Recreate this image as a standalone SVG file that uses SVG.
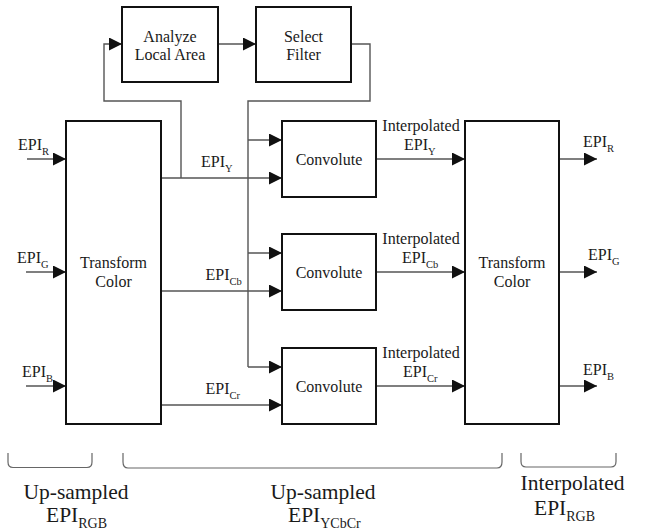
<svg xmlns="http://www.w3.org/2000/svg" width="650" height="532" viewBox="0 0 650 532">
<defs>
<marker id="ah" viewBox="0 0 13 13" refX="13" refY="6.5" markerWidth="13" markerHeight="13" markerUnits="userSpaceOnUse" orient="auto">
<path d="M0,0 L13,6.5 L0,13 Z" fill="#111"/>
</marker>
<style>
.box{fill:#fff;stroke:#111;stroke-width:2}
.ln{fill:none;stroke:#555;stroke-width:1.4}
.ar{fill:none;stroke:#555;stroke-width:1.4;marker-end:url(#ah)}
.br{fill:none;stroke:#666;stroke-width:1.2}
text{font-family:"Liberation Serif","Times New Roman",serif;fill:#1a1a1a}
.t{font-size:16px}
.c{text-anchor:middle}
.s{font-size:10.5px}
.b{font-size:21.5px}
.bs{font-size:14px}
</style>
</defs>
<g id="connectors">
<path class="ar" d="M218,44 H256"/>
<path class="ar" d="M181,178 V101 H104 V44 H122"/>
<path class="ln" d="M351,44 H370 V101 H248 V367"/>
<path class="ar" d="M248,140 H282"/>
<path class="ar" d="M248,253 H282"/>
<path class="ar" d="M248,367 H282"/>
<path class="ar" d="M161,178 H282"/>
<path class="ar" d="M161,291 H282"/>
<path class="ar" d="M161,405 H282"/>
<path class="ar" d="M27,159 H66"/>
<path class="ar" d="M26,272 H66"/>
<path class="ar" d="M26,386 H66"/>
<path class="ar" d="M376,159 H465"/>
<path class="ar" d="M376,272 H465"/>
<path class="ar" d="M376,386 H465"/>
<path class="ar" d="M559,159 H597"/>
<path class="ar" d="M559,272 H597"/>
<path class="ar" d="M559,386 H597"/>
</g>
<g id="analyze">
<rect class="box" x="122" y="7" width="96" height="75"/>
<text class="t c" x="170" y="42">Analyze</text>
<text class="t c" x="170" y="60">Local Area</text>
</g>
<g id="select">
<rect class="box" x="256" y="7" width="95" height="75"/>
<text class="t c" x="303.5" y="42">Select</text>
<text class="t c" x="303.5" y="60">Filter</text>
</g>
<g id="transform-in">
<rect class="box" x="66" y="121" width="95" height="303"/>
<text class="t c" x="113.5" y="268">Transform</text>
<text class="t c" x="113.5" y="287">Color</text>
</g>
<g id="conv-y">
<rect class="box" x="282" y="121" width="94" height="76"/>
<text class="t c" x="329" y="165">Convolute</text>
</g>
<g id="conv-cb">
<rect class="box" x="282" y="234" width="94" height="76"/>
<text class="t c" x="329" y="278">Convolute</text>
</g>
<g id="conv-cr">
<rect class="box" x="282" y="348" width="94" height="76"/>
<text class="t c" x="329" y="392">Convolute</text>
</g>
<g id="transform-out">
<rect class="box" x="465" y="121" width="94" height="303"/>
<text class="t c" x="512" y="268">Transform</text>
<text class="t c" x="512" y="287">Color</text>
</g>
<g id="labels">
<text class="t" x="18" y="150">EPI<tspan class="s" dy="5">R</tspan></text>
<text class="t" x="17" y="263">EPI<tspan class="s" dy="5">G</tspan></text>
<text class="t" x="22" y="377">EPI<tspan class="s" dy="5">B</tspan></text>
<text class="t" x="201" y="167">EPI<tspan class="s" dy="5">Y</tspan></text>
<text class="t" x="205.5" y="280">EPI<tspan class="s" dy="5">Cb</tspan></text>
<text class="t" x="205.5" y="394">EPI<tspan class="s" dy="5">Cr</tspan></text>
<text class="t c" x="421" y="131">Interpolated</text>
<text class="t" x="404" y="150">EPI<tspan class="s" dy="5">Y</tspan></text>
<text class="t c" x="421" y="244">Interpolated</text>
<text class="t" x="402" y="263">EPI<tspan class="s" dy="5">Cb</tspan></text>
<text class="t c" x="421" y="358">Interpolated</text>
<text class="t" x="403" y="377">EPI<tspan class="s" dy="5">Cr</tspan></text>
<text class="t" x="583" y="147">EPI<tspan class="s" dy="5">R</tspan></text>
<text class="t" x="588" y="260">EPI<tspan class="s" dy="5">G</tspan></text>
<text class="t" x="583" y="375">EPI<tspan class="s" dy="5">B</tspan></text>
</g>
<g id="brackets">
<path class="br" d="M8,453 V462 Q8,467.5 13,467.5 H87 Q92,467.5 92,462 V453"/>
<path class="br" d="M123,453 V462 Q123,468 128,468 H497 Q502,468 502,462 V453"/>
<path class="br" d="M521,453 V461.5 Q521,467 526,467 H611 Q616,467 616,461.5 V453"/>
</g>
<g id="captions">
<text class="b c" x="76" y="499">Up-sampled</text>
<text class="b" x="46" y="522">EPI<tspan class="bs" dy="6">RGB</tspan></text>
<text class="b c" x="323" y="499">Up-sampled</text>
<text class="b" x="288" y="522">EPI<tspan class="bs" dy="6">YCbCr</tspan></text>
<text class="b c" x="572.5" y="490">Interpolated</text>
<text class="b" x="534" y="515">EPI<tspan class="bs" dy="6">RGB</tspan></text>
</g>
</svg>
